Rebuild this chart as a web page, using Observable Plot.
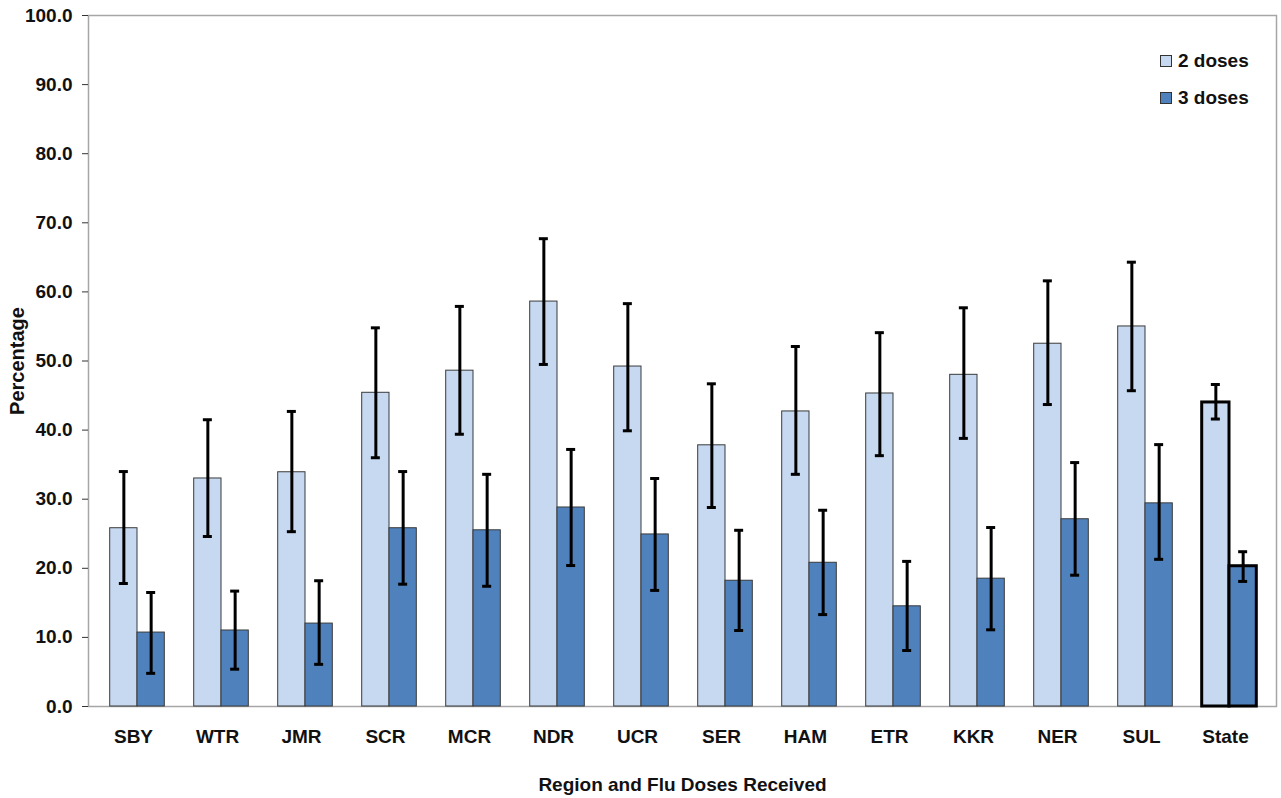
<!DOCTYPE html>
<html>
<head>
<meta charset="utf-8">
<script src="https://cdn.jsdelivr.net/npm/d3@7"></script>
<script src="https://cdn.jsdelivr.net/npm/@observablehq/plot@0.6"></script>
<style>
  html, body { margin: 0; padding: 0; background: #fff; }
  #wrap { position: relative; width: 1281px; height: 798px; font-family: "Liberation Sans", Arial, sans-serif; font-weight: bold; }
  .legend { position: absolute; left: 1160px; top: 42px; font-size: 19px; color: #111; }
  .legend .item { display: flex; align-items: center; height: 37px; }
  .legend .sw { width: 10px; height: 10px; border: 1px solid #333; margin-right: 6px; }
  #wrap svg g[aria-label="y-axis label"] text { font-size: 20px; }
</style>
</head>
<body>
<div id="wrap"></div>
<script>
const regions = ["SBY","WTR","JMR","SCR","MCR","NDR","UCR","SER","HAM","ETR","KKR","NER","SUL","State"];
const dose2   = [25.8,33.0,33.9,45.4,48.6,58.6,49.2,37.8,42.7,45.3,48.0,52.5,55.0,44.0];
const dose2Lo = [17.8,24.6,25.3,36.0,39.4,49.5,39.9,28.8,33.6,36.3,38.8,43.7,45.7,41.6];
const dose2Hi = [34.0,41.5,42.7,54.8,57.9,67.7,58.3,46.7,52.1,54.1,57.7,61.6,64.3,46.6];
const dose3   = [10.7,11.0,12.0,25.8,25.5,28.8,24.9,18.2,20.8,14.5,18.5,27.1,29.4,20.3];
const dose3Lo = [4.8,5.4,6.1,17.7,17.4,20.4,16.8,11.0,13.3,8.1,11.1,19.0,21.3,18.1];
const dose3Hi = [16.5,16.7,18.2,34.0,33.6,37.2,33.0,25.5,28.4,21.0,25.9,35.3,37.9,22.4];
const yTicks = [0,10,20,30,40,50,60,70,80,90,100];
const seriesNames = ["2 doses", "3 doses"];
const seriesColors = ["#C6D9F1", "#4F81BD"];

const rows = regions.map((r, i) => ({
  region: r, v2: dose2[i], lo2: dose2Lo[i], hi2: dose2Hi[i],
  v3: dose3[i], lo3: dose3Lo[i], hi3: dose3Hi[i]
}));
const normal = rows.filter(d => d.region !== "State");
const state = rows.filter(d => d.region === "State");

const W = 1281, H = 798;
const range = [95, 1271];
const pIn = 0.35, pOut = 0.175;
const step = (range[1] - range[0]) / (regions.length - pIn + 2 * pOut);
const bw = step * (1 - pIn);
const half = bw / 2, q = bw / 4, cap = 4.5;

const barOpts = (data, key, color, left, sw, stroke) => Plot.barY(data, {
  x: "region", y: key, fill: color, stroke, strokeWidth: sw,
  insetLeft: left ? 0 : half, insetRight: left ? half : 0
});

const chart = Plot.plot({
  width: W, height: H,
  marginTop: 15, marginBottom: 92, marginLeft: 88, marginRight: 5,
  style: { fontFamily: "'Liberation Sans', Arial, sans-serif", fontSize: "19px", fontWeight: "bold", background: "#fff" },
  x: { type: "band", domain: regions, range, paddingInner: pIn, paddingOuter: pOut, round: false, axis: null },
  y: { domain: [0, 100], axis: null },
  marks: [
    Plot.frame({ stroke: "#a6a6a6", strokeWidth: 1.5 }),
    barOpts(normal, "v2", seriesColors[0], true, 1, "#3a3a3a"),
    barOpts(normal, "v3", seriesColors[1], false, 1, "#3a3a3a"),
    barOpts(state, "v2", seriesColors[0], true, 3, "#000"),
    barOpts(state, "v3", seriesColors[1], false, 3, "#000"),
    Plot.ruleX(rows, { x: "region", y1: "lo2", y2: "hi2", dx: -q, stroke: "#000", strokeWidth: 3 }),
    Plot.ruleX(rows, { x: "region", y1: "lo3", y2: "hi3", dx: q, stroke: "#000", strokeWidth: 3 }),
    Plot.tickY(rows, { x: "region", y: "lo2", insetLeft: q - cap, insetRight: bw - q - cap, stroke: "#000", strokeWidth: 3 }),
    Plot.tickY(rows, { x: "region", y: "hi2", insetLeft: q - cap, insetRight: bw - q - cap, stroke: "#000", strokeWidth: 3 }),
    Plot.tickY(rows, { x: "region", y: "lo3", insetLeft: bw - q - cap, insetRight: q - cap, stroke: "#000", strokeWidth: 3 }),
    Plot.tickY(rows, { x: "region", y: "hi3", insetLeft: bw - q - cap, insetRight: q - cap, stroke: "#000", strokeWidth: 3 }),
    Plot.axisY({ ticks: yTicks, tickFormat: d3.format(".1f"), tickSize: 6, tickPadding: 10, line: true,
      stroke: "#333", fill: "#111", label: "Percentage", labelAnchor: "center", labelOffset: 79, labelArrow: false }),
    Plot.axisX({ domain: regions, tickSize: 0, tickPadding: 23, dx: -4, fill: "#111",
      label: "Region and Flu Doses Received", labelAnchor: "center", labelOffset: 84, labelArrow: false })
  ]
});

const wrap = document.getElementById("wrap");
wrap.appendChild(chart);

const legend = document.createElement("div");
legend.className = "legend";
seriesNames.forEach((name, i) => {
  const item = document.createElement("div");
  item.className = "item";
  const sw = document.createElement("div");
  sw.className = "sw";
  sw.style.background = seriesColors[i];
  const t = document.createElement("span");
  t.textContent = name;
  item.appendChild(sw);
  item.appendChild(t);
  legend.appendChild(item);
});
wrap.appendChild(legend);
</script>
</body>
</html>
